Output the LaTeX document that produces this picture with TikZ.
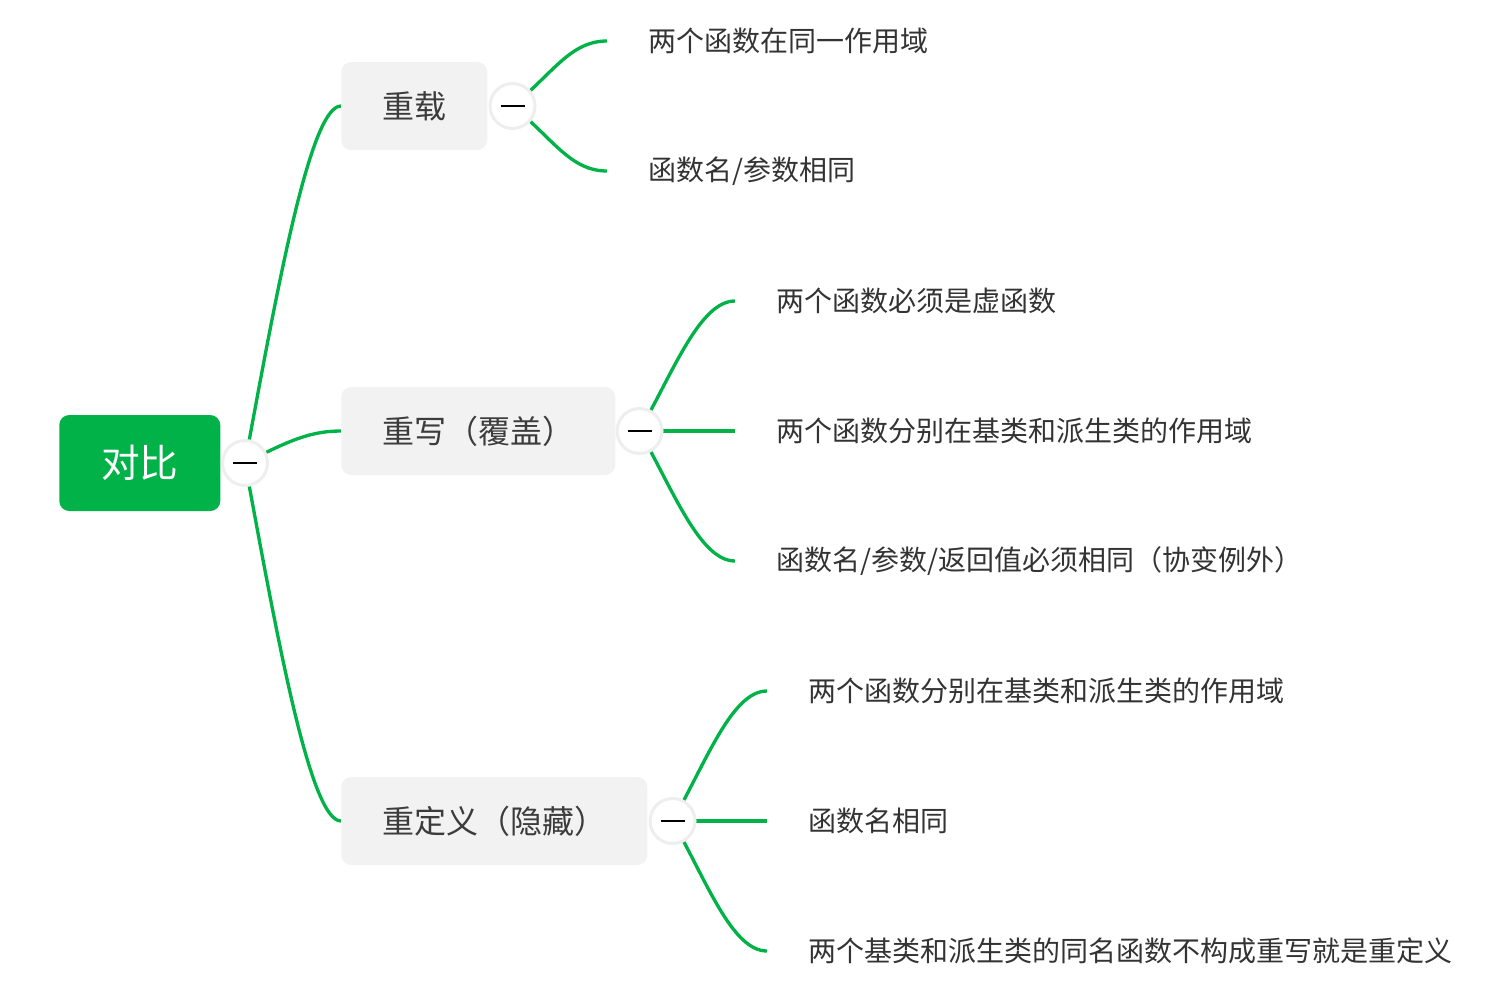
\documentclass[tikz,border=0pt]{standalone}
\usepackage{fontspec}
\setmainfont{Noto Sans CJK SC}
\usepackage{tikz}
\usepackage{xcolor}
\usetikzlibrary{positioning, backgrounds}

\begin{document}
\begin{tikzpicture}[x=0.75pt,y=0.75pt,yscale=-1,xscale=1,
  rootbox/.style={fill={rgb, 255:red, 0; green, 178; blue, 72 }, text=white, rounded corners=7.5pt, font=\fontsize{29pt}{29pt}\selectfont, inner xsep=30.75pt, inner ysep=0pt, minimum height=72pt, minimum width=120.75pt, anchor=west},
  topicbox/.style={fill={rgb, 255:red, 242; green, 242; blue, 242 }, text={rgb, 255:red, 60; green, 60; blue, 60 }, rounded corners=7.5pt, font=\fontsize{24pt}{24pt}\selectfont, inner xsep=30.75pt, inner ysep=0pt, minimum height=66pt, anchor=west},
  leaf/.style={text={rgb, 255:red, 51; green, 51; blue, 51 }, font=\fontsize{21pt}{21pt}\selectfont, inner xsep=30.75pt, inner ysep=0pt, anchor=west},
  toggle/.style={circle, draw={rgb, 255:red, 238; green, 238; blue, 238 }, line width=2.25pt, fill=white, minimum size=33.75pt, inner sep=0pt},
  link/.style={draw={rgb, 255:red, 0; green, 178; blue, 72 }, line width=2.5pt}
]
\useasboundingbox (0,0) rectangle (1488,993);

%Shape: Root
\node [rootbox] (root) at (59,463) {对比};
\node [toggle] (rt) at (245,463) {\rule{18pt}{1.5pt}};

%Shape: Topics
\node [topicbox] (c1) at (341,106) {重载};
\node [topicbox] (c2) at (341,431) {重写（覆盖）};
\node [topicbox] (c3) at (341,821) {重定义（隐藏）};
\node [toggle] (t1) at ([xshift=18.75pt]c1.east) {\rule{18pt}{1.5pt}};
\node [toggle] (t2) at ([xshift=18pt]c2.east) {\rule{18pt}{1.5pt}};
\node [toggle] (t3) at ([xshift=18.75pt]c3.east) {\rule{18pt}{1.5pt}};

%Text: Leaves
\node [leaf] (l1) at (607,41) {两个函数在同一作用域};
\node [leaf] (l2) at (607,171) {函数名/参数相同};
\node [leaf] (l3) at (735,301) {两个函数必须是虚函数};
\node [leaf] (l4) at (735,431) {两个函数分别在基类和派生类的作用域};
\node [leaf] (l5) at (735,561) {函数名/参数/返回值必须相同（协变例外）};
\node [leaf] (l6) at (767,691) {两个函数分别在基类和派生类的作用域};
\node [leaf] (l7) at (767,821) {函数名相同};
\node [leaf] (l8) at (767,951) {两个基类和派生类的同名函数不构成重写就是重定义};

\begin{scope}[on background layer]
%Curve Lines: root to topics
\draw [link] (rt.center) .. controls +(32,-173) and +(-31,0) .. (c1.west);
\draw [link] (rt.center) .. controls +(45,-23) and +(-30,0) .. (c2.west);
\draw [link] (rt.center) .. controls +(32,173) and +(-31,0) .. (c3.west);
%Curve Lines: topics to leaves
\draw [link] (t1.center) .. controls +(40,-32) and +(-37,0) .. (l1.west);
\draw [link] (t1.center) .. controls +(40,32) and +(-37,0) .. (l2.west);
\draw [link] (t2.center) .. controls +(34,-60) and +(-35,0) .. (l3.west);
\draw [link] (t2.center) -- (l4.west);
\draw [link] (t2.center) .. controls +(34,60) and +(-35,0) .. (l5.west);
\draw [link] (t3.center) .. controls +(34,-60) and +(-35,0) .. (l6.west);
\draw [link] (t3.center) -- (l7.west);
\draw [link] (t3.center) .. controls +(34,60) and +(-35,0) .. (l8.west);
\end{scope}

\end{tikzpicture}
\end{document}
